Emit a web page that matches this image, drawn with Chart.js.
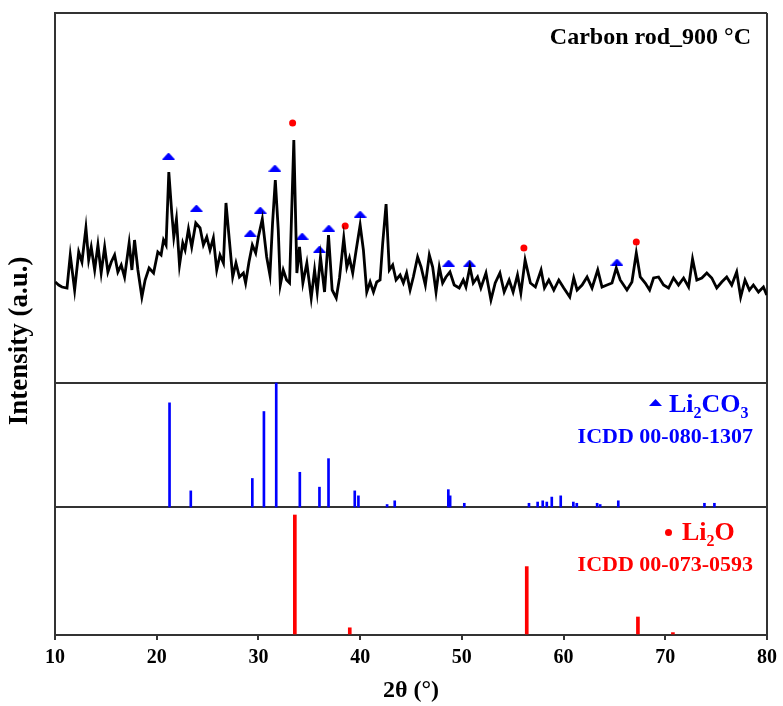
<!DOCTYPE html>
<html>
<head>
<meta charset="utf-8">
<script src="https://cdn.jsdelivr.net/npm/chart.js@4.4.1/dist/chart.umd.min.js"></script>
<style>
  html, body { margin: 0; padding: 0; background: #fff; }
  #wrap { width: 783px; height: 706px; }
</style>
</head>
<body>
<div id="wrap"><canvas id="xrdChart"></canvas></div>
<script>
// measured pattern, carbon rod 900 C
const twoTheta = [10.03,10.36,10.69,11.18,11.50,11.93,12.33,12.65,13.04,13.31,13.56,13.90,14.22,14.54,14.88,15.20,15.53,15.86,16.18,16.51,
  16.84,17.29,17.56,17.82,18.15,18.54,18.86,19.25,19.69,20.11,20.43,20.67,20.92,21.19,21.48,21.68,21.94,22.24,22.56,22.79,
  23.12,23.44,23.84,24.26,24.59,24.92,25.24,25.57,25.90,26.22,26.56,26.81,27.14,27.47,27.79,28.13,28.52,28.74,29.07,29.40,
  29.73,29.99,30.38,30.81,31.13,31.39,31.66,31.95,32.15,32.44,32.77,33.06,33.48,33.78,34.04,34.37,34.76,35.19,35.52,35.78,
  36.10,36.50,36.89,37.25,37.65,37.97,38.39,38.69,38.95,39.27,39.61,40.00,40.32,40.65,40.98,41.31,41.63,41.96,42.22,42.55,
  42.87,43.20,43.53,43.93,44.25,44.57,44.91,45.23,45.65,45.99,46.41,46.80,47.13,47.46,47.78,48.11,48.44,48.83,49.25,49.74,
  50.14,50.40,50.79,51.12,51.54,51.87,52.37,52.86,53.28,53.74,54.16,54.65,55.04,55.47,55.80,56.22,56.74,57.23,57.79,58.12,
  58.55,59.04,59.53,60.02,60.61,61.00,61.33,61.82,62.31,62.80,63.36,63.78,64.27,64.76,65.18,65.57,66.23,66.72,67.15,67.54,
  68.03,68.46,68.85,69.34,69.83,70.32,70.81,71.30,71.80,72.29,72.68,73.10,73.59,74.08,74.57,75.06,75.55,76.04,76.53,77.02,
  77.41,77.84,78.27,78.66,79.16,79.65,79.97];
const intensity = [101,98,96,95,128,93,131,121,155,123,136,113,138,110,136,111,121,128,111,118,
  106,140,113,143,113,86,103,115,110,131,128,143,138,211,170,146,164,118,140,133,
  154,136,160,155,138,146,133,145,113,128,120,180,143,106,120,106,110,100,121,138,
  130,146,164,126,108,160,203,153,98,113,103,100,243,110,136,100,120,85,113,91,
  126,91,148,93,85,105,145,116,125,110,133,158,133,91,101,91,101,103,140,179,
  113,118,103,108,100,110,93,106,126,116,98,128,116,91,116,100,106,111,98,95,
  103,96,116,100,106,95,110,83,100,110,91,103,91,108,90,123,100,96,113,95,
  103,93,103,95,86,105,93,98,106,95,113,96,98,100,115,103,93,101,130,106,
  100,93,105,106,98,95,105,98,105,96,124,103,105,110,105,95,101,106,98,111,
  86,103,93,98,91,96,88];

// phase markers on the pattern
const li2co3MarkX = [21.16, 23.9, 29.2, 30.18, 31.62, 34.3, 36.0, 36.92, 40.0, 48.7, 50.76, 65.25];
const li2co3MarkY = [227, 175, 150, 173, 215, 147, 134, 155, 169, 120, 120, 121];
const li2oMarkX = [33.36, 38.53, 56.1, 67.15];
const li2oMarkY = [260, 157, 135, 141];

// reference cards (relative intensity, %)
const li2co3Pos = [21.26, 23.35, 29.40, 30.54, 31.75, 34.07, 36.00, 36.89, 39.47, 39.83, 42.65, 43.40, 48.67, 48.85,
  50.24, 56.60, 57.45, 57.95, 58.35, 58.84, 59.72, 60.96, 61.30, 63.30, 63.60, 65.38, 73.85, 74.83];
const li2co3Int = [84, 13, 23, 77, 100, 28, 16, 39, 13, 9, 2, 5, 14, 9,
  3, 3, 4, 5, 4, 8, 9, 4, 3, 3, 2, 5, 3, 3];
const li2oPos = [33.58, 38.98, 56.38, 67.31, 70.75];
const li2oInt = [100, 6, 57, 15, 2];

// panels stacked on one y scale
const li2oBase = 0, li2oScale = 1.2;
const li2co3Base = 128, li2co3Scale = 1.24;
const patternBase = 252;
const yTop = 622;
const panelEdges = [li2oBase, li2co3Base, patternBase, yTop];

const BLUE = '#0000ff';
const RED = '#ff0000';
const SERIF = "'Liberation Serif', 'Times New Roman', serif";
Chart.defaults.font.family = SERIF;

const triangle = document.createElement('canvas');
triangle.width = 13;
triangle.height = 7;
const tctx = triangle.getContext('2d');
tctx.fillStyle = BLUE;
tctx.beginPath();
tctx.moveTo(0, 7);
tctx.lineTo(6.5, 0);
tctx.lineTo(13, 7);
tctx.closePath();
tctx.fill();

const pattern = twoTheta.map((x, i) => ({ x: x, y: patternBase + intensity[i] }));
const co3Marks = li2co3MarkX.map((x, i) => ({ x: x, y: patternBase + li2co3MarkY[i] }));
const oMarks = li2oMarkX.map((x, i) => ({ x: x, y: patternBase + li2oMarkY[i] }));
const co3Bars = li2co3Pos.map((x, i) => ({ x: x, y: [li2co3Base, li2co3Base + li2co3Int[i] * li2co3Scale] }));
const oBars = li2oPos.map((x, i) => ({ x: x, y: [li2oBase, li2oBase + li2oInt[i] * li2oScale] }));

function richText(ctx, parts, x, y, size) {
  let cx = x;
  parts.forEach(p => {
    const sub = p[1];
    ctx.font = 'bold ' + (sub ? Math.round(size * 0.62) : size) + 'px ' + SERIF;
    ctx.fillText(p[0], cx, sub ? y + size * 0.22 : y);
    cx += ctx.measureText(p[0]).width;
  });
}

const panelLabels = {
  id: 'panelLabels',
  afterDraw(chart) {
    const { ctx, chartArea } = chart;
    const ys = chart.scales.y;
    const r = chartArea.right;
    const midTop = ys.getPixelForValue(patternBase);
    const lowTop = ys.getPixelForValue(li2co3Base);
    ctx.save();
    ctx.textBaseline = 'alphabetic';

    ctx.fillStyle = '#000';
    ctx.textAlign = 'right';
    ctx.font = 'bold 24px ' + SERIF;
    ctx.fillText('Carbon rod_900 °C', r - 16, chartArea.top + 31);

    // Li2CO3
    ctx.drawImage(triangle, r - 118, midTop + 16);
    ctx.fillStyle = BLUE;
    ctx.textAlign = 'left';
    richText(ctx, [['Li', false], ['2', true], ['CO', false], ['3', true]], r - 98, midTop + 29, 26);
    ctx.textAlign = 'right';
    ctx.font = 'bold 22px ' + SERIF;
    ctx.fillText('ICDD 00-080-1307', r - 14, midTop + 60);

    // Li2O
    ctx.fillStyle = RED;
    ctx.beginPath();
    ctx.arc(r - 98.5, lowTop + 25.5, 3.5, 0, Math.PI * 2);
    ctx.fill();
    ctx.textAlign = 'left';
    richText(ctx, [['Li', false], ['2', true], ['O', false]], r - 85, lowTop + 33, 26);
    ctx.textAlign = 'right';
    ctx.font = 'bold 22px ' + SERIF;
    ctx.fillText('ICDD 00-073-0593', r - 14, lowTop + 64);
    ctx.restore();
  }
};

new Chart(document.getElementById('xrdChart'), {
  type: 'line',
  data: {
    datasets: [
      { data: pattern, borderColor: '#000', borderWidth: 2.8, pointRadius: 0, tension: 0 },
      { data: co3Marks, showLine: false, pointStyle: triangle, pointRadius: 6 },
      { data: oMarks, showLine: false, pointStyle: 'circle', pointRadius: 3.5,
        backgroundColor: RED, borderColor: RED, borderWidth: 0 },
      { type: 'bar', data: co3Bars, backgroundColor: BLUE, barThickness: 2, grouped: false },
      { type: 'bar', data: oBars, backgroundColor: RED, barThickness: 3, grouped: false }
    ]
  },
  options: {
    responsive: true,
    maintainAspectRatio: false,
    animation: false,
    layout: { padding: { top: 13, right: 15, left: 0, bottom: 0 } },
    plugins: { legend: { display: false }, tooltip: { enabled: false } },
    scales: {
      x: {
        type: 'linear',
        min: 10,
        max: 80,
        offset: false,
        afterFit: s => { s.height = 71; },
        ticks: { stepSize: 10, color: '#000', padding: 6, font: { size: 20, weight: 'bold' } },
        grid: {
          offset: false,
          color: c => (c.tick && c.tick.value === 80 ? '#333' : 'rgba(0,0,0,0)'),
          lineWidth: 2,
          tickColor: '#333',
          tickLength: 5,
          tickWidth: 2
        },
        border: { color: '#333', width: 2 },
        title: {
          display: true,
          text: '2θ (°)',
          color: '#000',
          font: { size: 24, weight: 'bold' },
          padding: { top: 0, bottom: 1 }
        }
      },
      y: {
        min: 0,
        max: yTop,
        afterFit: s => { s.width = 55; },
        afterBuildTicks: s => { s.ticks = panelEdges.map(v => ({ value: v })); },
        ticks: { display: false },
        grid: { color: '#333', lineWidth: 2, drawTicks: false },
        border: { color: '#333', width: 2 },
        title: {
          display: true,
          // trailing spaces push the label down a little, as in the figure
          text: 'Intensity (a.u.)     ',
          color: '#000',
          font: { size: 27, weight: 'bold' },
          padding: { top: 4, bottom: 0 }
        }
      }
    }
  },
  plugins: [panelLabels]
});
</script>
</body>
</html>
